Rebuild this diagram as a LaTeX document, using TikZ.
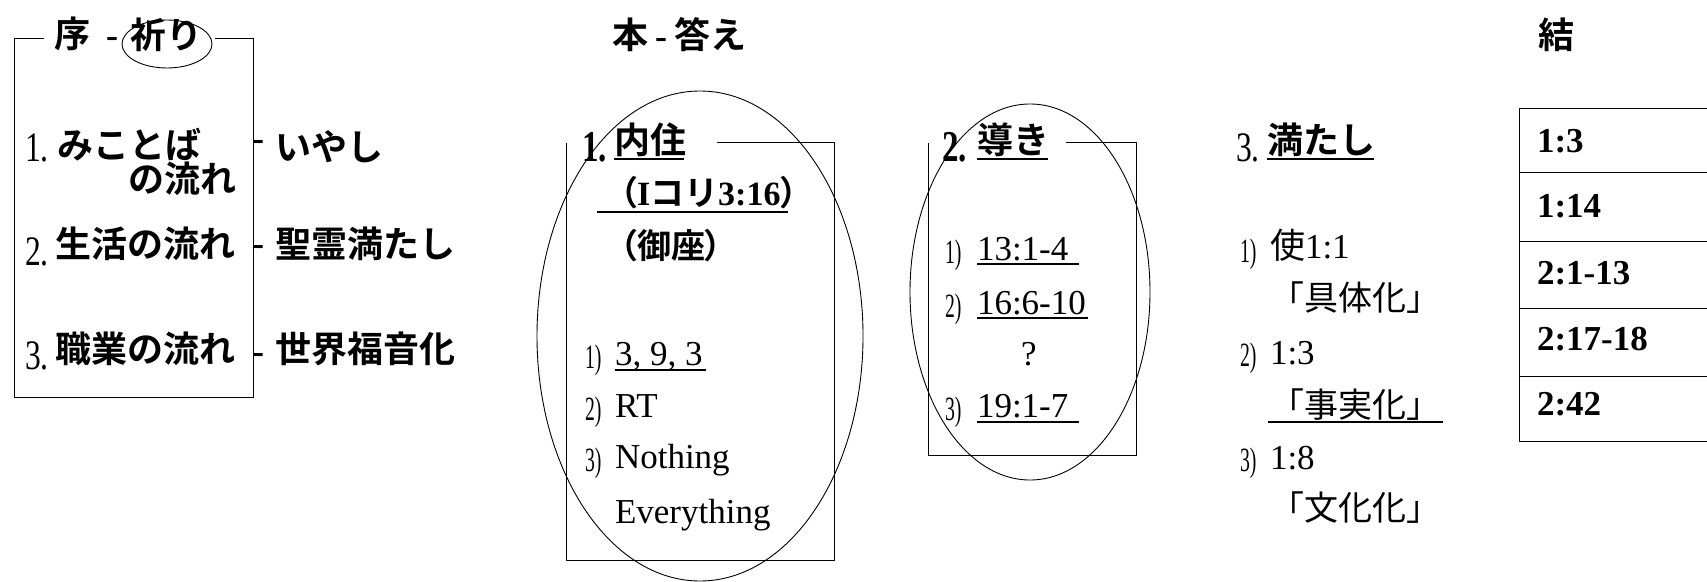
\documentclass[tikz,border=0pt]{standalone}
\usepackage{fontspec}
\usetikzlibrary{shapes.geometric}
\setmainfont{Liberation Serif}
\newfontfamily\cond{Liberation Serif}[FakeStretch=0.75]
\newfontfamily\condn{Liberation Serif}[FakeStretch=0.58]
\newfontfamily\jp{Noto Sans CJK JP}[BoldFont=* Bold]
\newfontfamily\jpp{Noto Sans CJK JP}[BoldFont=* Bold,RawFeature=+palt]
\tikzset{
  every node/.style={inner sep=0pt, outer sep=0pt},
  tj/.style={anchor=base west, font=\jp\bfseries\fontsize{36bp}{40bp}\selectfont},
  tjs/.style={anchor=base west, font=\jp\bfseries\fontsize{34bp}{40bp}\selectfont},
  rj/.style={anchor=base west, font=\jp\fontsize{34bp}{40bp}\selectfont},
  bignum/.style={anchor=base west, font=\cond\fontsize{42bp}{44bp}\selectfont},
  bigbnum/.style={anchor=base west, font=\cond\bfseries\fontsize{44bp}{44bp}\selectfont},
  smallnum/.style={anchor=base west, font=\condn\fontsize{34bp}{36bp}\selectfont},
  lat/.style={anchor=base west, font=\fontsize{35bp}{40bp}\selectfont},
  latb/.style={anchor=base west, font=\bfseries\fontsize{35bp}{40bp}\selectfont},
  hyph/.style={anchor=base west, font=\bfseries\fontsize{36bp}{40bp}\selectfont},
  frame/.style={draw, line width=1bp},
  ul/.style={line width=1.6bp},
  oval/.style={draw, ellipse, line width=0.9bp}
}
\begin{document}
\begin{tikzpicture}[x=1bp,y=-1bp]
\useasboundingbox (0,0) rectangle (1707,582);

% ---------- left block: 序 ----------
\node[tj] (jo) at (54,48) {序};
\node[hyph] (jodash) at (106,48) {-};
\node[tj] (inori) at (130,49) {祈り};
\node[oval, minimum width=90bp, minimum height=48bp] (inoriov) at (167,44) {};
\draw[frame] (44,39) -- (14,39) -- (14,397) -- (253,397) -- (253,39) -- (215,39);

\node[bignum] (n1) at (25,162) {1.};
\node[tj, anchor=north west, align=left, font=\jp\bfseries\fontsize{36bp}{30bp}\selectfont]
  (mikotoba) at (57,128.3) {みことば\\\hspace{71bp}の流れ};
\node[hyph] (d1) at (252,151) {-};
\node[tj] (iyashi) at (275,161) {いやし};

\node[bignum] (n2) at (25,265) {2.};
\node[tj] (seikatsu) at (55,257) {生活の流れ};
\node[hyph] (d2) at (252,256) {-};
\node[tj] (seirei) at (275,257) {聖霊満たし};

\node[bignum] (n3) at (25,369) {3.};
\node[tj] (shokugyo) at (55,362) {職業の流れ};
\node[hyph] (d3) at (252,363) {-};
\node[tj] (sekai) at (275,362) {世界福音化};

% ---------- headings ----------
\node[tj] (hon) at (612,49) {本\hspace{7bp}{\rmfamily -}\hspace{8bp}答え};
\node[tj] (ketsu) at (1538,49) {結};

% ---------- box 1: 内住 ----------
\draw[frame] (717,143) -- (834,143) -- (834,560) -- (566,560) -- (566,143);
\node[oval, minimum width=326bp, minimum height=490bp] (ov1) at (700,336) {};
\node[bigbnum] (b1) at (582,162) {1.};
\node[tj] (naiju) at (614,154) {内住};
\draw[ul] (614,159) -- (684,159);
\node[tjs] (kori) at (620,206) {{\jpp （}{\rmfamily I}コリ{\rmfamily 3:16}{\jpp ）}};
\draw[ul] (597,212) -- (788,212);
\node[tjs] (gyoza) at (620,258) {{\jpp （}御座{\jpp ）}};
\node[smallnum] (i11) at (585,368) {1)};
\node[lat] (t393) at (615,365) {3, 9, 3};
\draw[ul] (615,370) -- (706,370);
\node[smallnum] (i12) at (585,420) {2)};
\node[lat] (rt) at (615,417) {RT};
\node[smallnum] (i13) at (585,471) {3)};
\node[lat] (nothing) at (615,468) {Nothing};
\node[lat] (every) at (615,523) {Everything};

% ---------- box 2: 導き ----------
\draw[frame] (1066,143) -- (1136,143) -- (1136,455) -- (928,455) -- (928,143);
\node[oval, minimum width=240bp, minimum height=376bp] (ov2) at (1030,292) {};
\node[bigbnum] (b2) at (942,162) {2.};
\node[tj] (michibiki) at (977,154) {導き};
\draw[ul] (977,159) -- (1048,159);
\node[smallnum] (i21) at (945,263) {1)};
\node[lat] (r21) at (977,260) {13:1-4};
\draw[ul] (977,264) -- (1079,264);
\node[smallnum] (i22) at (945,317) {2)};
\node[lat] (r22) at (977,314) {16:6-10};
\draw[ul] (977,318) -- (1088,318);
\node[lat] (q) at (1021,365) {?};
\node[smallnum] (i23) at (945,420) {3)};
\node[lat] (r23) at (977,417) {19:1-7};
\draw[ul] (977,422) -- (1079,422);

% ---------- column 3: 満たし ----------
\node[bignum] (b3) at (1236,162) {3.};
\node[tj] (mitashi) at (1267,154) {満たし};
\draw[ul] (1267,159) -- (1374,159);
\node[smallnum] (i31) at (1240,262) {1)};
\node[lat] (s1) at (1270,258) {{\jp 使}1:1};
\node[rj] (gutai) at (1270,310) {「具体化」};
\node[smallnum] (i32) at (1240,366) {2)};
\node[lat] (s2) at (1270,364) {1:3};
\node[rj] (jijitsu) at (1270,417) {「事実化」};
\draw[ul] (1268,422) -- (1443,422);
\node[smallnum] (i33) at (1240,471) {3)};
\node[lat] (s3) at (1270,469) {1:8};
\node[rj] (bunka) at (1270,520) {「文化化」};

% ---------- table: 結 ----------
\draw[frame] (1707,109) -- (1519,109) -- (1519,441) -- (1707,441);
\draw[frame] (1519,173) -- (1707,173);
\draw[frame] (1519,241) -- (1707,241);
\draw[frame] (1519,308) -- (1707,308);
\draw[frame] (1519,376) -- (1707,376);
\node[latb] (k1) at (1537,153) {1:3};
\node[latb] (k2) at (1537,218) {1:14};
\node[latb] (k3) at (1537,284) {2:1-13};
\node[latb] (k4) at (1537,350) {2:17-18};
\node[latb] (k5) at (1537,415) {2:42};
\end{tikzpicture}
\end{document}
